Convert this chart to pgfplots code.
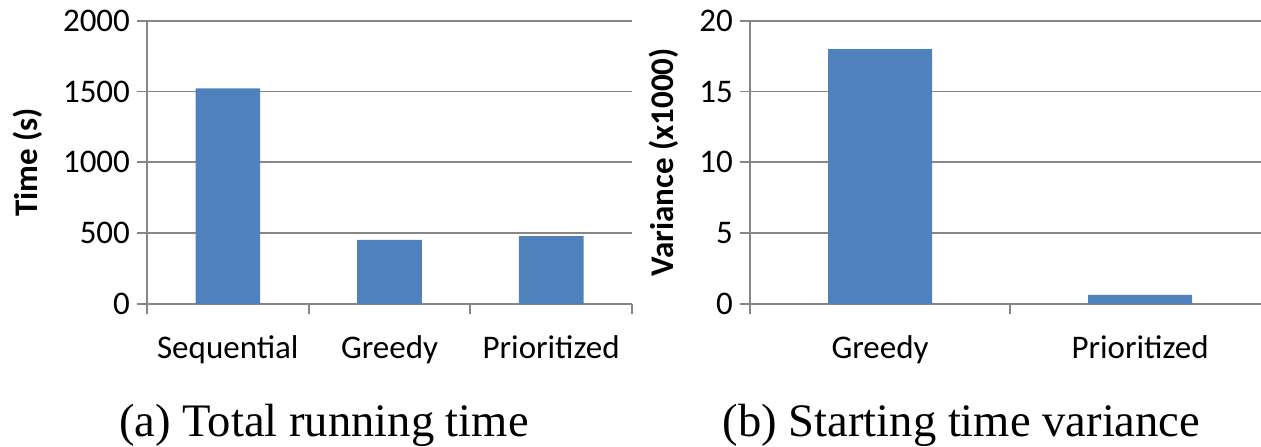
\documentclass[border=0pt]{standalone}
\usepackage{pgfplots}
\pgfplotsset{compat=1.18}
\usepackage{fontspec}
\setmainfont{Carlito}
\newfontfamily\capfont{Liberation Serif}
\definecolor{barblue}{RGB}{79,129,189}
\definecolor{gridgray}{RGB}{134,134,134}
\begin{document}
\begin{tikzpicture}
\path[use as bounding box] (0pt,0pt) rectangle (630.5pt,223pt);
\pgfplotsset{
  common/.style={
    scale only axis, height=141.65pt, ymin=0,
    axis x line*=bottom, axis y line*=left,
    tick align=outside,
    ymajorgrids, grid style={gridgray, line width=0.9pt},
    axis line style={gridgray, line width=0.9pt, -},
    tick style={gridgray, line width=0.9pt},
    major tick length=5pt,
    xticklabels={},
    /pgf/number format/assume math mode=true,
    /pgf/number format/1000 sep={},
    tick label style={font=\fontsize{16.5}{19}\selectfont, text=black},
    extra x tick style={major tick length=0pt, xticklabel style={yshift=-12.5pt}},
    ylabel style={font=\fontsize{16.5}{19}\selectfont\bfseries},
    ylabel shift=3.5pt,
    ybar, bar width=0.4,
    clip=false,
  }
}
\begin{axis}[common, at={(73.5pt,71pt)}, anchor=south west,
  width=242.5pt, xmin=-0.5, xmax=2.5, ymax=2000,
  ytick={0,500,1000,1500,2000},
  xtick={-0.5,0.5,1.5,2.5},
  extra x ticks={0,1,2},
  extra x tick labels={Sequential,Greedy,Prioritized},
  ylabel={Time (s)}]
\addplot[fill=barblue, draw=none] coordinates {(0,1523) (1,452) (2,480)};
\end{axis}
\begin{axis}[common, at={(375pt,71pt)}, anchor=south west,
  width=255.5pt, xmin=-0.5, xmax=1.465, ymax=20,
  ytick={0,5,10,15,20},
  xtick={-0.5,0.5},
  extra x ticks={0,1},
  extra x tick labels={Greedy,Prioritized},
  ylabel={Variance (x1000)}]
\addplot[fill=barblue, draw=none] coordinates {(0,18.0) (1,0.65)};
\end{axis}
\node[anchor=base, font=\capfont\fontsize{23.3}{28}\selectfont] at (162pt,5pt) {(a) Total running time};
\node[anchor=base, font=\capfont\fontsize{23.3}{28}\selectfont] at (480.75pt,5pt) {(b) Starting time variance};
\end{tikzpicture}
\end{document}
